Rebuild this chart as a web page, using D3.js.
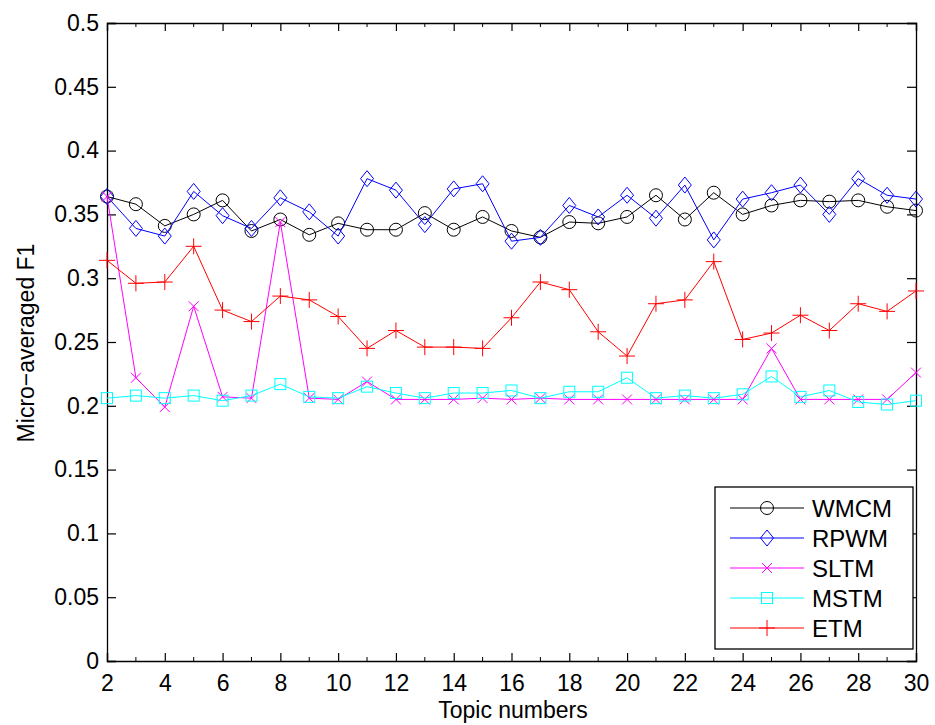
<!DOCTYPE html>
<html>
<head>
<meta charset="utf-8">
<script src="https://cdn.jsdelivr.net/npm/d3@7"></script>
<style>
  body { margin: 0; background: #fff; }
  text { font-family: "Liberation Sans", Arial, sans-serif; fill: #000; }
</style>
</head>
<body>
<svg width="935" height="725"></svg>
<script>
// topic numbers on the x axis
const topics = d3.range(2, 31)

// micro-averaged F1 per method
const wmcm = [0.364, 0.358, 0.341, 0.350, 0.361, 0.337, 0.346, 0.334, 0.343, 0.338,
  0.338, 0.351, 0.338, 0.348, 0.337, 0.332, 0.344, 0.343, 0.348, 0.365,
  0.346, 0.367, 0.350, 0.357, 0.361, 0.360, 0.361, 0.356, 0.353]
const rpwm = [0.364, 0.339, 0.333, 0.368, 0.349, 0.339, 0.363, 0.352, 0.333, 0.378,
  0.369, 0.342, 0.370, 0.374, 0.329, 0.332, 0.357, 0.348, 0.365, 0.347,
  0.373, 0.330, 0.362, 0.367, 0.373, 0.350, 0.378, 0.365, 0.362]
const sltm = [0.364, 0.222, 0.199, 0.278, 0.207, 0.206, 0.344, 0.206, 0.205, 0.219,
  0.205, 0.205, 0.205, 0.206, 0.205, 0.206, 0.205, 0.205, 0.205, 0.205,
  0.205, 0.205, 0.205, 0.245, 0.205, 0.205, 0.205, 0.205, 0.226]
const mstm = [0.206, 0.208, 0.206, 0.208, 0.204, 0.208, 0.217, 0.207, 0.206, 0.215,
  0.210, 0.206, 0.210, 0.210, 0.212, 0.206, 0.211, 0.211, 0.222, 0.206,
  0.208, 0.206, 0.209, 0.223, 0.207, 0.212, 0.203, 0.201, 0.204]
const etm = [0.314, 0.296, 0.297, 0.325, 0.275, 0.266, 0.286, 0.283, 0.270, 0.245,
  0.259, 0.246, 0.246, 0.245, 0.269, 0.297, 0.291, 0.258, 0.239, 0.280,
  0.283, 0.313, 0.252, 0.257, 0.271, 0.259, 0.280, 0.274, 0.290]

const names = ["WMCM", "RPWM", "SLTM", "MSTM", "ETM"]
const colors = ["#000000", "#0000ff", "#ff00ff", "#00ffff", "#ff0000"]
const markers = ["circle", "diamond", "cross", "square", "plus"]
const yTicks = d3.range(0, 0.5001, 0.05)

const series = [wmcm, rpwm, sltm, mstm, etm].map((vals, i) => ({
  name: names[i], color: colors[i], marker: markers[i],
  points: vals.map((v, j) => [topics[j], v])
}))

// plot box
const margin = { top: 23, right: 19, bottom: 64, left: 107 },
  width = 935 - margin.left - margin.right,
  height = 725 - margin.top - margin.bottom

const svg = d3.select("svg")
const g = svg.append("g").attr("transform", `translate(${margin.left},${margin.top})`)

const xScale = d3.scaleLinear().domain([2, 30]).range([0, width])
const yScale = d3.scaleLinear().domain([0, 0.5]).range([height, 0])

// draws one marker shape at the origin
function drawMarker(sel, type, color) {
  if (type == "circle") {
    sel.append("circle").attr("r", 6.5).attr("fill", "none").attr("stroke", color)
  } else if (type == "diamond") {
    sel.append("path").attr("d", "M0,-8L6.5,0L0,8L-6.5,0Z").attr("fill", "none").attr("stroke", color)
  } else if (type == "square") {
    sel.append("rect").attr("x", -5.5).attr("y", -5.5).attr("width", 11).attr("height", 11)
      .attr("fill", "none").attr("stroke", color)
  } else if (type == "cross") {
    sel.append("path").attr("d", "M-5,-5L5,5M-5,5L5,-5").attr("stroke", color)
  } else {
    sel.append("path").attr("d", "M-8,0L8,0M0,-8L0,8").attr("stroke", color)
  }
}

// axes: labels bottom/left, inward ticks on all four sides
const fmt = d => d3.format("~g")(+d.toFixed(2))
const xMajor = d3.range(2, 31, 2)
const xMinor = d3.range(3, 30, 2)

const xAxis = g.append("g").attr("transform", `translate(0,${height})`)
  .call(d3.axisBottom(xScale).tickValues(xMajor).tickSize(-8).tickPadding(14).tickFormat(d3.format("d")))
const xTop = g.append("g")
  .call(d3.axisTop(xScale).tickValues(xMajor).tickSize(-8).tickFormat(""))
const yAxis = g.append("g")
  .call(d3.axisLeft(yScale).tickValues(yTicks).tickSize(-9).tickPadding(8).tickFormat(fmt))
const yRight = g.append("g").attr("transform", `translate(${width},0)`)
  .call(d3.axisRight(yScale).tickValues(yTicks).tickSize(-9).tickFormat(""))

// minor x ticks
g.append("g").selectAll("line").data(xMinor).join("line")
  .attr("x1", d => xScale(d)).attr("x2", d => xScale(d))
  .attr("y1", height).attr("y2", height - 4).attr("stroke", "#000")
g.append("g").selectAll("line").data(xMinor).join("line")
  .attr("x1", d => xScale(d)).attr("x2", d => xScale(d))
  .attr("y1", 0).attr("y2", 4).attr("stroke", "#000")

for (const ax of [xAxis, xTop, yAxis, yRight]) {
  ax.select(".domain").attr("stroke", "#000").attr("stroke-width", 1.3)
  ax.selectAll(".tick line").attr("stroke", "#000").attr("stroke-width", 1.2)
  ax.selectAll("text").style("font-size", "23px").attr("fill", "#000")
}
xAxis.selectAll("text").attr("dy", "0.71em")

// lines and markers
const line = d3.line().x(d => xScale(d[0])).y(d => yScale(d[1]))

series.forEach(s => {
  g.append("path").datum(s.points)
    .attr("d", line).attr("fill", "none").attr("stroke", s.color).attr("stroke-width", 1)
  g.append("g").selectAll("g").data(s.points).join("g")
    .attr("transform", d => `translate(${xScale(d[0])},${yScale(d[1])})`)
    .each(function () { drawMarker(d3.select(this), s.marker, s.color) })
})

// legend
const legend = svg.append("g").attr("transform", "translate(715,487)")
legend.append("rect").attr("width", 198).attr("height", 162)
  .attr("fill", "#fff").attr("stroke", "#000").attr("stroke-width", 1.3)

series.forEach((s, i) => {
  const row = legend.append("g").attr("transform", `translate(0,${21 + i * 30})`)
  row.append("line").attr("x1", 15).attr("x2", 89).attr("stroke", s.color).attr("stroke-width", 1.2)
  drawMarker(row.append("g").attr("transform", "translate(52,0)"), s.marker, s.color)
  row.append("text").attr("x", 97).attr("dy", "0.36em").style("font-size", "24px").text(s.name)
})

// axis titles
svg.append("text")
  .attr("x", 513).attr("y", 718)
  .attr("text-anchor", "middle").style("font-size", "23px")
  .text("Topic numbers")

svg.append("text")
  .attr("transform", "translate(34,343) rotate(-90)")
  .attr("text-anchor", "middle").style("font-size", "23px")
  .text("Micro\u2212averaged F1")
</script>
</body>
</html>
